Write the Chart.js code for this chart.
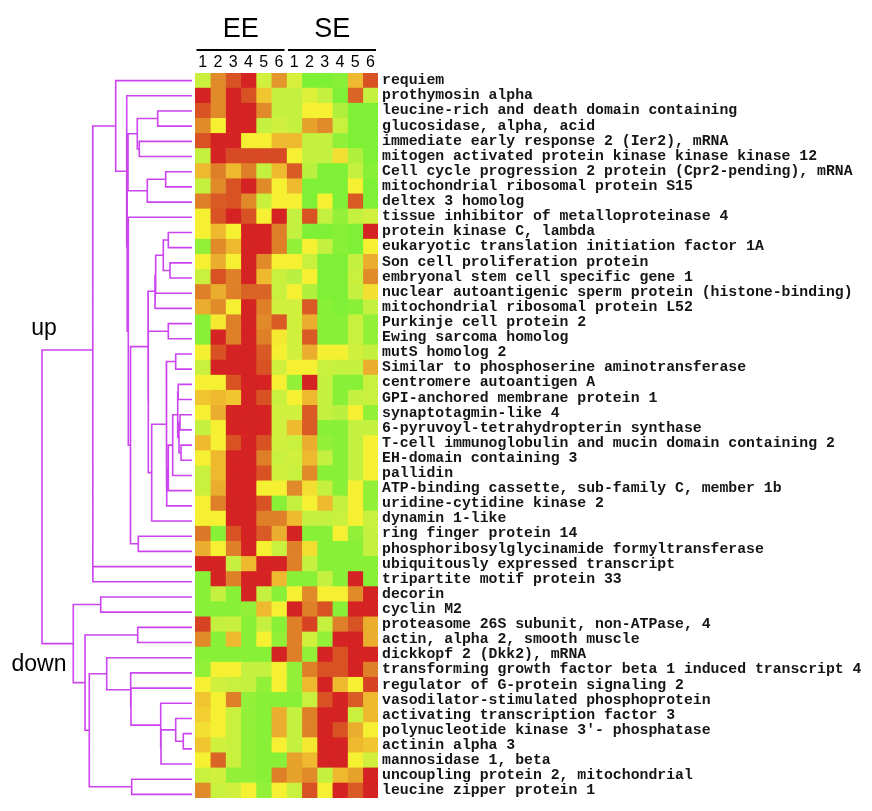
<!DOCTYPE html>
<html><head><meta charset="utf-8">
<script src="https://cdn.jsdelivr.net/npm/chart.js@4.4.1/dist/chart.umd.min.js"></script>
<style>
html,body{margin:0;padding:0;background:#fff;}
#wrap{position:relative;width:872px;height:811px;}
#heatBox{position:absolute;left:0;top:0;width:872px;height:811px;}
#treeBox{position:absolute;left:0;top:0;width:195px;height:811px;}
</style></head><body>
<div id="wrap"><div id="heatBox"><canvas id="heat"></canvas></div><div id="treeBox"><canvas id="tree"></canvas></div></div>
<script>
// ---- categories ----
const groups = ['EE', 'SE'];
const sampleIds = ['1', '2', '3', '4', '5', '6'];
const genes = [
  'requiem', 'prothymosin alpha', 'leucine-rich and death domain containing', 'glucosidase, alpha, acid',
  'immediate early response 2 (Ier2), mRNA', 'mitogen activated protein kinase kinase kinase 12',
  'Cell cycle progression 2 protein (Cpr2-pending), mRNA', 'mitochondrial ribosomal protein S15',
  'deltex 3 homolog', 'tissue inhibitor of metalloproteinase 4', 'protein kinase C, lambda',
  'eukaryotic translation initiation factor 1A', 'Son cell proliferation protein',
  'embryonal stem cell specific gene 1', 'nuclear autoantigenic sperm protein (histone-binding)',
  'mitochondrial ribosomal protein L52', 'Purkinje cell protein 2', 'Ewing sarcoma homolog',
  'mutS homolog 2', 'Similar to phosphoserine aminotransferase', 'centromere autoantigen A',
  'GPI-anchored membrane protein 1', 'synaptotagmin-like 4', '6-pyruvoyl-tetrahydropterin synthase',
  'T-cell immunoglobulin and mucin domain containing 2', 'EH-domain containing 3', 'pallidin',
  'ATP-binding cassette, sub-family C, member 1b', 'uridine-cytidine kinase 2', 'dynamin 1-like',
  'ring finger protein 14', 'phosphoribosylglycinamide formyltransferase',
  'ubiquitously expressed transcript', 'tripartite motif protein 33', 'decorin', 'cyclin M2',
  'proteasome 26S subunit, non-ATPase, 4', 'actin, alpha 2, smooth muscle', 'dickkopf 2 (Dkk2), mRNA',
  'transforming growth factor beta 1 induced transcript 4', 'regulator of G-protein signaling 2',
  'vasodilator-stimulated phosphoprotein', 'activating transcription factor 3',
  "polynucleotide kinase 3'- phosphatase", 'actinin alpha 3', 'mannosidase 1, beta',
  'uncoupling protein 2, mitochondrial', 'leucine zipper protein 1'
];
// ---- expression values (log ratio, columns EE1..EE6, SE1..SE6) ----
const logRatios = [
  [-0.7,1.0,1.6,2.2,-0.6,0.9,-0.5,-1.5,-1.5,-1.4,0.6,1.6],
  [2.2,1.0,2.2,1.6,0.5,-0.8,-0.8,-0.4,-0.8,-1.5,1.4,-0.8],
  [1.6,1.0,2.2,2.2,1.0,-0.8,-0.8,0,0,-1.0,-1.5,-1.5],
  [1.0,0,2.2,2.2,-0.8,-0.6,-0.8,0.8,1.0,-0.7,-1.5,-1.5],
  [1.6,2.2,2.2,0,0,0.6,0.6,-0.8,-0.8,-1.3,-1.5,-1.5],
  [-0.8,2.2,1.7,1.7,1.7,1.7,0,-0.8,-0.8,0.2,-1.0,-1.5],
  [0.6,1.1,0.6,1.1,-0.8,0.6,1.5,-0.9,-1.5,-1.5,-0.8,-1.4],
  [-0.8,1.0,1.6,2.2,1.0,0,0.6,-1.5,-1.5,-1.5,0,-1.5],
  [1.1,1.5,1.6,1.0,-0.7,0,0,-1.5,0,-1.5,1.5,-1.5],
  [0,1.6,2.2,1.6,0,2.2,-0.8,1.6,-0.8,-1.3,-0.8,-0.6],
  [0,0.6,0,2.2,2.2,1.1,-0.8,-1.5,-1.5,-1.4,-1.5,2.2],
  [-1.3,1.0,0.6,2.2,2.2,1.1,-1.3,0,-0.8,-1.4,-1.5,0],
  [0,0.7,0,2.2,1.0,0,0,-0.7,-1.5,-1.5,-0.8,0.7],
  [-0.7,1.6,1.1,2.2,0.6,-0.7,-0.9,0,-1.5,-1.5,-0.7,1.0],
  [1.1,0.7,1.1,1.4,1.4,-0.7,0,-1.0,-1.5,-1.5,-0.8,0.2],
  [0.7,1.0,0,2.2,1.1,-0.6,-0.6,1.5,-1.4,-1.5,-1.4,-0.8],
  [-1.4,0.1,1.1,2.2,1.0,1.5,-0.6,0.7,-1.4,-1.4,-0.7,-1.3],
  [-1.4,2.2,1.1,2.2,1.1,0.1,-0.6,1.5,-1.4,-1.4,-0.7,-1.3],
  [0,1.6,2.2,2.2,1.5,0,-0.6,0.7,0,0,-0.6,-0.8],
  [-0.7,2.2,2.2,2.2,1.6,-0.6,0,0,-0.7,-0.8,-0.8,0.7],
  [0,0,1.6,2.2,2.2,0,-1.3,2.2,-0.8,-1.4,-1.4,-0.7],
  [0.5,0.6,0.5,2.2,1.6,-0.7,0,0.6,-0.8,-1.4,-0.8,-0.7],
  [0,0.7,2.2,2.2,2.2,-0.6,-0.6,1.5,-0.8,-0.9,0,-1.3],
  [-0.8,0,2.2,2.2,2.2,-0.6,0.6,1.5,-1.4,-1.4,-0.8,-0.8],
  [0.6,0,1.6,2.2,1.6,-0.6,-0.7,0.7,-1.3,-1.4,-0.8,0],
  [0,0.6,2.2,2.2,1.1,-0.7,-0.6,0.6,-0.8,-1.4,-0.8,0],
  [-0.7,0.6,2.2,2.2,1.6,-0.6,-0.7,1.0,-1.4,-1.4,-0.8,0],
  [-0.7,0.7,2.2,2.2,0,0,1.0,0.2,-0.8,-1.4,0,-1.3],
  [0,1.1,2.2,2.2,1.6,-1.4,-0.8,0,0.6,-0.8,0,-1.3],
  [0,0,2.2,2.2,1.1,1.1,0.6,-0.8,-0.8,-0.7,0,-0.7],
  [1.2,-1.4,1.6,2.2,1.5,0.7,2.2,-1.4,-1.4,0,-1.3,-0.8],
  [0.7,0,1.1,2.2,0,-0.7,1.1,0.2,-1.4,-1.4,-1.4,-0.8],
  [2.2,2.2,-0.8,0.6,2.2,2.2,1.1,-0.8,-1.4,-1.4,-1.4,-1.4],
  [-1.4,2.2,1.1,2.2,2.2,0.6,-1.4,-1.4,-0.8,-1.4,2.2,-1.4],
  [-1.4,-0.8,-1.4,2.2,-0.8,-1.4,0,1.0,0,0,1.0,2.2],
  [-1.4,-1.4,-1.4,-1.3,0.6,0,2.2,1.1,1.6,-1.4,2.2,2.2],
  [1.8,-0.8,-0.7,-1.4,-0.8,-1.4,1.1,1.8,-0.8,1.1,1.6,0.7],
  [1.0,-1.4,0.6,-1.4,0,-1.3,1.1,-0.6,-1.3,2.2,2.2,0.7],
  [-1.4,-1.4,-1.4,-1.4,-1.4,2.2,1.1,-1.3,2.2,1.6,2.2,2.2],
  [-1.3,0,0,-0.8,-0.8,0,-1.3,1.1,1.6,1.6,2.2,1.1],
  [0,-0.6,-0.7,-0.8,-1.3,0,-1.3,0.6,2.2,0.6,0,1.8],
  [0.5,0,1.1,-1.3,-1.4,-1.4,-1.4,-0.7,1.6,2.2,1.5,0.6],
  [0.4,0,-0.7,-1.3,-1.4,0.7,-0.8,1.1,2.2,2.2,-0.7,0.6],
  [0.2,0,-0.7,-1.3,-1.4,0.7,-0.8,1.1,2.2,1.6,0.7,0],
  [0.5,-0.6,-0.7,-1.3,-1.4,0,-0.8,0.1,2.2,2.2,0.6,0.5],
  [0,1.4,-0.7,-1.3,-1.4,-1.4,0.8,0.6,2.2,2.2,0,-0.6],
  [-0.7,-0.6,-1.3,-1.3,-1.4,1.1,0.8,1.0,-0.8,0.6,0.8,2.2],
  [1.0,-0.7,-0.6,0,-1.3,0,-0.7,1.6,0,2.2,1.5,2.2]
];
// ---- colour scale ----
const stopValues = [-1.5, -0.8, 0, 0.5, 1.0, 1.5, 2.2];
const stopColors = ['#7ef036', '#c4f040', '#f5f132', '#f1c52f', '#e08a2a', '#d95a24', '#d52222'];
// ---- gene clustering (linkage: name, child A, child B, height) ----
const linkage = [
  ['n23',2,3,34.3], ['n45',4,5,52.7], ['AB','n23','n45',54.7], ['n67',6,7,26.3], ['F','n67',8,44.7],
  ['Z','AB','F',64.0], ['n10_11',10,11,23.7], ['n12_13',12,13,22], ['n10_13','n10_11','n12_13',28.7],
  ['n10_14','n10_13',14,36.3], ['n10_15','n10_14',15,37], ['n16_17',16,17,23.7], ['n18_19',18,19,16.3],
  ['n20_21',20,21,13.8], ['n22_23',22,23,12], ['n24_25',24,25,11], ['n22_25','n22_23','n24_25',13],
  ['n20_25','n20_21','n22_25',14.3], ['n20_26','n20_25',26,19.3], ['n20_27','n20_26',27,23.7],
  ['n20_28','n20_27',28,25.3], ['n18_28','n18_19','n20_28',25.6], ['n18_29','n18_28',29,40.3],
  ['n16_29','n16_17','n18_29',43.7], ['Q','n10_15','n16_29',44], ['n30_31',30,31,53.7],
  ['X3','Q','n30_31',61.5], ['X2',9,'X3',63.7], ['Y','Z','X2',64.8], ['X1',1,'Y',65.3],
  ['T',0,'X1',76.3], ['U2',32,33,99.1], ['up','T','U2',99.3],
  ['n34_35',34,35,91.3], ['n36_37',36,37,54.3], ['n43_44',43,44,8.7], ['n42_44',42,'n43_44',16.3],
  ['C2','n42_44',45,31], ['C',41,'C2',31.3], ['n40_45',40,'C',61], ['n39_45',39,'n40_45',61.3],
  ['n38_45',38,'n39_45',85.3], ['n46_47',46,47,60.3], ['n38_47','n38_45','n46_47',102.7],
  ['n36_47','n36_37','n38_47',107], ['down','n34_35','n36_47',118.7], ['root','up','down',150]
];
const clusterNames = ['up', 'down'];

// ---- helpers ----
function hexToRgb(h){ return [1,3,5].map(i => parseInt(h.substr(i,2),16)); }
function colorFor(v){
  if (v <= stopValues[0]) return stopColors[0];
  for (let i = 1; i < stopValues.length; i++) {
    if (v <= stopValues[i]) {
      const t = (v - stopValues[i-1]) / (stopValues[i] - stopValues[i-1]);
      const a = hexToRgb(stopColors[i-1]), b = hexToRgb(stopColors[i]);
      const c = a.map((x, k) => Math.round(x + (b[k] - x) * t));
      return `rgb(${c[0]},${c[1]},${c[2]})`;
    }
  }
  return stopColors[stopColors.length - 1];
}
const colLabels = [];
groups.forEach(() => sampleIds.forEach(s => colLabels.push(s)));
const nCols = colLabels.length;

const heatDatasets = colLabels.map((lab, c) => ({
  label: groups[Math.floor(c / sampleIds.length)] + lab,
  data: genes.map(() => [c, c + 1]),
  backgroundColor: logRatios.map(r => colorFor(r[c])),
  borderWidth: 0, barPercentage: 1, categoryPercentage: 1, grouped: false
}));

// dendrogram geometry in data units (row index, merge height)
const nodes = {};
const treePoints = [];
function ref(r){ return typeof r === 'number' ? {y: r, h: 0} : nodes[r]; }
linkage.forEach(([name, a, b, h]) => {
  const A = ref(a), B = ref(b);
  nodes[name] = {y: (A.y + B.y) / 2, h};
  treePoints.push({x: A.h, y: A.y}, {x: h, y: A.y}, {x: h, y: B.y}, {x: B.h, y: B.y}, {x: null, y: null});
});

const groupHeader = {
  id: 'groupHeader',
  afterDraw(chart){
    const {ctx, chartArea, scales: {x}} = chart;
    ctx.save();
    groups.forEach((g, gi) => {
      const x0 = x.getPixelForValue(gi * sampleIds.length);
      const x1 = x.getPixelForValue((gi + 1) * sampleIds.length);
      ctx.strokeStyle = '#000'; ctx.lineWidth = 2.2;
      ctx.beginPath(); ctx.moveTo(x0 + 1.5, chartArea.top - 23); ctx.lineTo(x1 - 2, chartArea.top - 23); ctx.stroke();
      ctx.fillStyle = '#000'; ctx.font = '27px "Liberation Sans", Arial, sans-serif';
      ctx.textAlign = 'center'; ctx.textBaseline = 'alphabetic';
      ctx.fillText(g, (x0 + x1) / 2, chartArea.top - 36);
    });
    ctx.restore();
  }
};

new Chart(document.getElementById('heat'), {
  type: 'bar',
  data: {labels: genes, datasets: heatDatasets},
  options: {
    indexAxis: 'y', responsive: true, maintainAspectRatio: false, animation: false,
    layout: {padding: {left: 195, right: 0, top: 0, bottom: 9}},
    plugins: {legend: {display: false}, tooltip: {enabled: false}},
    scales: {
      x: {
        type: 'linear', position: 'top', min: 0, max: nCols,
        grid: {display: false, drawTicks: false}, border: {display: false},
        afterBuildTicks: s => { s.ticks = colLabels.map((_, i) => ({value: i + 0.5})); },
        ticks: {autoSkip: false, maxRotation: 0, padding: 1, color: '#000',
          font: {family: '"Liberation Sans", Arial, sans-serif', size: 16},
          callback: (v, i) => colLabels[i]},
        afterFit: s => { s.height = 73; }
      },
      y: {
        type: 'category', position: 'right', offset: true,
        grid: {display: false, drawTicks: false}, border: {display: false},
        ticks: {autoSkip: false, padding: 4, color: '#151515',
          font: {family: '"Liberation Mono", monospace', size: 14.8, weight: 'bold'}},
        afterFit: s => { s.width = 494; }
      }
    }
  },
  plugins: [groupHeader]
});

const clusterLabels = {
  id: 'clusterLabels',
  afterDraw(chart){
    const {ctx, scales: {x, y}} = chart;
    const rx = x.getPixelForValue(nodes.root.h);
    ctx.save();
    ctx.fillStyle = '#000'; ctx.font = '23px "Liberation Sans", Arial, sans-serif'; ctx.textAlign = 'center';
    ctx.textBaseline = 'alphabetic';
    ctx.fillText(clusterNames[0], rx + 2, y.getPixelForValue(nodes.up.y) - 15);
    ctx.fillText(clusterNames[1], rx - 3, y.getPixelForValue(nodes.down.y) + 27);
    ctx.restore();
  }
};

new Chart(document.getElementById('tree'), {
  type: 'scatter',
  data: {datasets: [{data: treePoints, showLine: true, spanGaps: false, borderColor: '#cc44ee',
    borderWidth: 1.6, pointRadius: 0, pointHoverRadius: 0, fill: false, borderCapStyle: 'butt', borderJoinStyle: 'miter'}]},
  options: {
    responsive: true, maintainAspectRatio: false, animation: false,
    layout: {padding: {left: 0, right: 3, top: 73, bottom: 9}},
    plugins: {legend: {display: false}, tooltip: {enabled: false}},
    scales: {
      x: {type: 'linear', display: false, min: 0, max: 192, reverse: true},
      y: {type: 'linear', display: false, min: -0.5, max: genes.length - 0.5, reverse: true}
    }
  },
  plugins: [clusterLabels]
});
</script>
</body></html>
